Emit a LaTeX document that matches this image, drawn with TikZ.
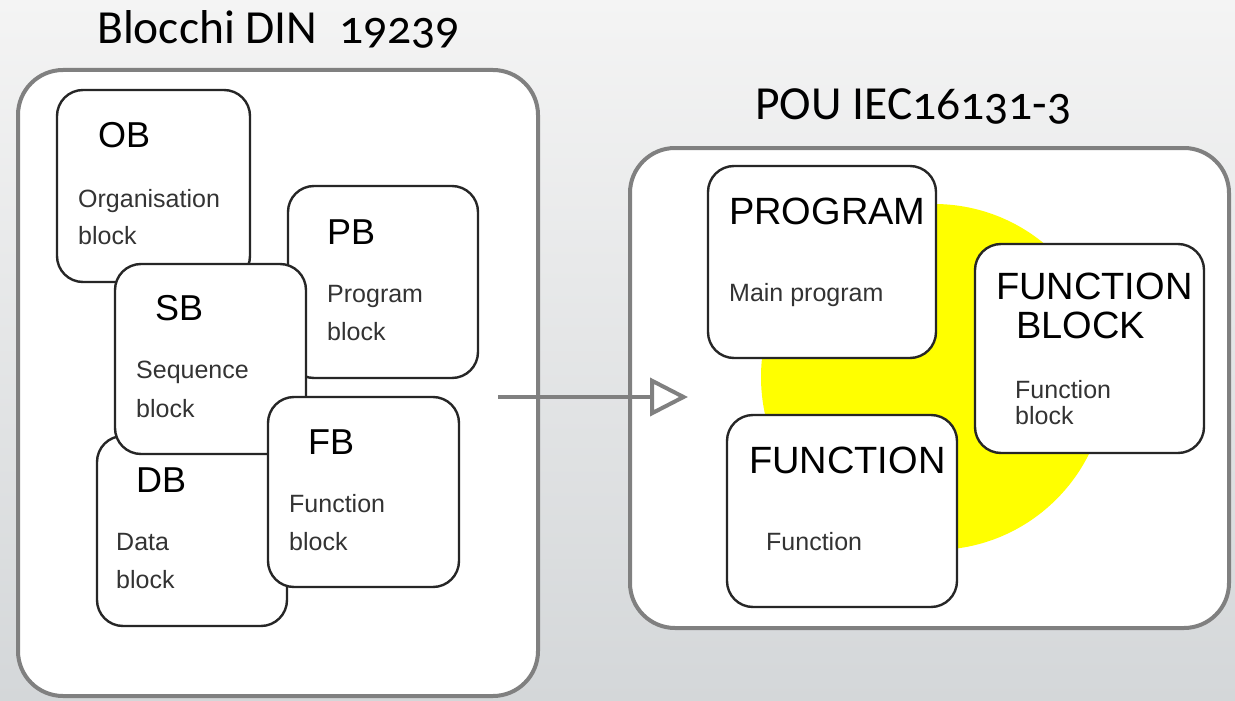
\documentclass[tikz,border=0pt]{standalone}
\usepackage{fontspec}
\setmainfont{Liberation Sans}
\newfontfamily\titlefont[Numbers=OldStyle]{Carlito}
\usetikzlibrary{arrows.meta}
\definecolor{boxgray}{HTML}{808080}
\definecolor{bgtop}{HTML}{F4F4F4}
\definecolor{bgbot}{HTML}{D4D7D9}
\definecolor{sun}{HTML}{FFFF00}

\begin{document}
\begin{tikzpicture}[x=1pt, y=-1pt,
    outer/.style={draw=boxgray, line width=4pt, fill=white, rounded corners=45pt},
    blk/.style={draw=black!85, line width=2.4pt, fill=white, rounded corners=26pt, inner sep=0},
    big/.style={font=\fontsize{36}{40}\selectfont, anchor=base west, inner sep=0},
    bigger/.style={font=\fontsize{38}{44}\selectfont, anchor=base west, inner sep=0},
    small/.style={font=\fontsize{25}{28}\selectfont, text=black!80, anchor=base west, inner sep=0},
    ttl/.style={font=\titlefont\fontsize{47.5}{52}\selectfont, anchor=base west, inner sep=0},
    conn/.style={draw=boxgray, line width=4pt, -{Triangle[open, length=38pt, width=38pt]}}]
        \useasboundingbox (0,0) rectangle (1235,701);
        \shade[top color=bgtop, bottom color=bgbot] (0,0) rectangle (1235,701);

        % DIN 19239
        \node[ttl] (dintitle) at (97,44) {Blocchi DIN\ \ 19239};
        \draw[outer] (18,70) rectangle (538,696);

        \node[blk, minimum width=193pt, minimum height=192pt] (ob) at (153.5,186) {};
        \node[big] (obname) at (98,147) {OB};
        \node[small] (obtext1) at (78,207) {Organisation};
        \node[small] (obtext2) at (78,244) {block};

        \node[blk, minimum width=190pt, minimum height=192pt] (pb) at (383,282) {};
        \node[big] (pbname) at (327,244) {PB};
        \node[small] (pbtext1) at (327,302) {Program};
        \node[small] (pbtext2) at (327,340) {block};

        \node[blk, minimum width=190pt, minimum height=190pt] (db) at (192,531) {};
        \node[big] (dbname) at (136,492) {DB};
        \node[small] (dbtext1) at (116,550) {Data};
        \node[small] (dbtext2) at (116,588) {block};

        \node[blk, minimum width=191pt, minimum height=190pt] (sb) at (210.5,359) {};
        \node[big] (sbname) at (155,320) {SB};
        \node[small] (sbtext1) at (136,378) {Sequence};
        \node[small] (sbtext2) at (136,417) {block};

        \node[blk, minimum width=191pt, minimum height=190pt] (fb) at (363.5,492) {};
        \node[big] (fbname) at (308,454) {FB};
        \node[small] (fbtext1) at (289,512) {Function};
        \node[small] (fbtext2) at (289,550) {block};

        % IEC 61131-3
        \node[ttl] (poutitle) at (755,119) {POU IEC16131-3};
        \draw[outer] (630,148) rectangle (1229,628);
        \fill[sun] (934,377) circle (173);

        \node[blk, minimum width=228pt, minimum height=192pt] (prog) at (822,262) {};
        \node[bigger] (progname) at (729,224) {PROGRAM};
        \node[small] (progtext) at (729,301) {Main program};

        \node[blk, minimum width=230pt, minimum height=192pt] (func) at (842,511) {};
        \node[bigger] (funcname) at (749,473) {FUNCTION};
        \node[small] (functext) at (766,550) {Function};

        \node[blk, minimum width=229pt, minimum height=209pt] (fblk) at (1089.5,348.5) {};
        \node[bigger] (fblkname1) at (996,299) {FUNCTION};
        \node[bigger] (fblkname2) at (1016,338) {BLOCK};
        \node[small] (fblktext1) at (1015,398) {Function};
        \node[small] (fblktext2) at (1015,424) {block};

        \coordinate (arrs) at (498,397);
        \coordinate (arre) at (688,397);
        \draw[conn] (arrs) -- (arre);
    \end{tikzpicture}
\end{document}
